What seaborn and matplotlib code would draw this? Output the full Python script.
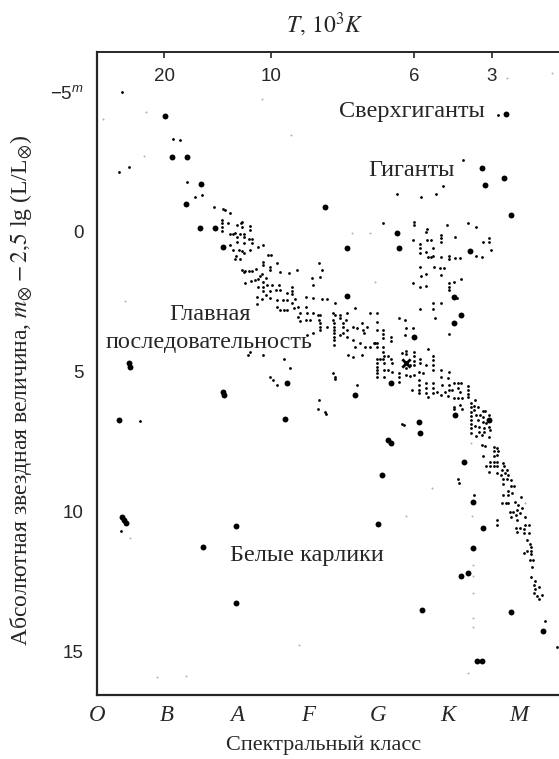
import matplotlib
matplotlib.use("Agg")
import matplotlib.pyplot as plt
import seaborn as sns

# Спектральные классы (нижняя ось)
classes = ["O", "B", "A", "F", "G", "K", "M"]
class_pos = [0, 1, 2, 3, 4, 5, 6]

# Температура, 10^3 K (верхняя ось)
temp_labels = ["20", "10", "6", "3"]
temp_pos = [0.96, 2.48, 4.52, 5.62]

mag_ticks = [-5, 0, 5, 10, 15]
mag_labels = ["$-5^{m}$", "0", "5", "10", "15"]

# мелкие точки (спектральный класс, абсолютная величина)
small_x = [
    0.35, 1.08, 1.18, 0.32, 0.45, 1.28, 1.39, 1.49,
    1.66, 1.79, 1.83, 1.89, 1.78, 1.78, 1.78, 1.78, 1.87, 1.99, 2.05, 2.07, 2.06, 2.18, 2.18,
    1.89, 1.94, 1.97, 2.03, 2.09, 1.99, 2.10, 2.16, 2.21, 2.21, 2.09, 1.99, 1.90, 2.29, 2.36,
    1.94, 2.02, 2.06, 2.18, 2.10, 1.98, 2.03, 1.96, 2.44, 2.48, 2.37, 2.37, 2.56, 3.16, 2.47,
    2.47, 2.06, 2.11, 2.16, 2.21, 2.27, 2.09, 2.32, 2.35, 2.30, 2.25, 2.19, 2.36, 2.40, 2.11,
    2.42, 2.49, 2.59, 2.61, 2.73, 2.85, 3.20, 3.06, 3.17, 2.30, 2.37, 2.36, 2.47, 2.55, 2.61,
    2.70, 2.78, 2.78, 2.78, 2.40, 2.28, 2.35, 2.47, 2.56, 2.65, 2.70, 2.82, 2.97, 3.08, 3.07,
    3.20, 3.27, 3.39, 2.28, 2.56, 2.61, 2.66, 2.70, 2.78, 2.80, 2.86, 2.97, 2.89, 2.99, 3.08,
    3.15, 3.18, 3.36, 3.39, 3.46, 3.56, 3.68, 3.89, 3.99, 2.86, 2.89, 2.97, 3.04, 3.16, 3.18,
    3.17, 3.17, 3.27, 3.36, 3.37, 3.37, 3.37, 3.37, 3.37, 3.37, 3.37, 3.46, 3.50, 3.50, 3.54,
    3.56, 3.51, 3.46, 3.56, 3.65, 3.70, 3.77, 3.79, 3.84, 3.80, 3.65, 3.68, 3.75, 3.82, 3.89,
    3.96, 3.58, 3.65, 3.77, 3.08, 2.99, 2.18, 2.15, 2.37,
    5.71, 5.21, 4.93, 4.83, 4.61, 4.27, 4.08, 4.51, 4.51, 4.70, 4.98, 5.29, 5.40, 5.10, 5.59,
    4.69, 4.50, 4.60, 4.60, 4.60, 4.70, 4.75, 4.90, 4.90, 4.90, 5.50, 5.59, 5.61, 4.79, 4.69,
    4.71, 4.76, 4.79, 4.90, 5.01, 5.02, 5.10, 5.17, 5.40, 5.48, 4.60, 4.80, 4.88, 4.94, 4.90,
    4.69, 4.61, 4.50, 4.60, 4.69, 5.01, 5.01, 5.01, 5.08, 5.18, 5.13, 4.79, 4.90, 4.60, 4.79,
    4.81, 4.30, 4.39, 3.99, 4.50, 4.40,
    3.99, 4.08, 4.08, 4.08, 4.19, 4.19, 4.39, 5.01, 3.94, 3.99, 3.99, 4.08, 4.08, 4.09, 4.15,
    4.19, 3.99, 4.03, 4.08, 3.99, 3.99, 3.99, 3.99, 3.99, 4.09, 4.09, 4.09, 4.20, 4.20, 4.14,
    4.40, 4.40, 4.51, 4.51, 4.51, 4.51, 4.34, 4.46, 4.40, 4.71, 4.60, 4.60, 4.69, 4.79, 4.79,
    4.79, 4.79, 4.59, 4.64, 4.30, 4.30, 4.30, 4.40, 4.46, 4.51, 4.59, 4.59, 4.59, 4.59, 4.69,
    4.69, 4.69, 4.71, 4.79, 4.79, 4.79, 4.90, 5.02, 4.90, 4.91, 4.90, 4.84, 5.00, 5.01, 5.01,
    5.00, 4.48, 4.95, 5.08, 5.14, 5.18, 5.06, 5.14, 5.17, 5.28, 5.28, 5.28, 5.28, 5.08, 5.14,
    5.20, 5.09, 5.09, 5.17, 5.20,
    5.32, 5.32, 5.32, 5.32, 5.32, 5.32, 5.32, 5.32,
    5.39, 5.37, 5.43, 5.37, 5.50, 5.53, 5.40, 5.45, 5.50, 5.58, 5.42, 5.50, 5.54, 5.39, 5.44,
    5.51, 5.58, 5.44, 5.51, 5.40, 5.48, 5.58, 5.60, 5.48, 5.53, 5.66, 5.70, 5.66, 5.71, 5.65,
    5.70, 5.50, 5.60, 5.65, 5.70, 5.54, 5.60, 5.65, 5.70, 5.58, 5.78, 5.79, 5.77, 5.84, 5.69,
    5.75, 5.81, 5.85, 5.78, 5.84, 5.89, 5.78, 5.89, 5.94, 5.85, 5.91, 5.85, 5.78, 6.04, 5.77,
    5.82, 5.86, 5.96, 6.00, 6.05, 5.98, 5.93, 5.88, 5.97, 6.03, 5.89,
    6.09, 5.98, 5.69, 5.69, 5.97, 6.03, 6.08, 5.98, 6.08, 6.15, 6.09, 6.15, 6.12, 6.17, 6.18,
    6.18, 6.18, 6.12, 6.08, 6.16, 6.21, 6.20, 6.18, 6.24, 6.23, 6.30, 6.24, 6.23, 6.34, 6.26,
    6.29,
    0.34, 0.61, 2.47, 2.50, 2.57, 2.66, 2.75, 3.16, 3.15, 3.25, 3.26, 3.36, 3.39, 3.39, 3.70,
    4.34, 4.37, 5.14, 5.15, 5.37, 6.38, 6.55,
]
small_y = [
    -4.99, -3.32, -3.29, -2.13, -2.33, -1.80, -1.24, -1.31,
    -0.90, -0.81, -0.79, -0.67, -0.43, -0.31, -0.19, -0.05, -0.31, -0.25, -0.31, -0.19, -0.37, -0.21, -0.07,
    0.07, 0.07, 0.05, 0.07, 0.07, 0.19, 0.19, 0.26, 0.26, 0.38, 0.38, 0.34, 0.46, 0.52, 0.46,
    0.64, 0.64, 0.67, 0.64, 0.74, 0.86, 0.98, 0.98, 0.82, 0.82, 1.06, 1.18, 1.12, 1.09, 1.24,
    1.36, 1.36, 1.38, 1.38, 1.38, 1.33, 1.42, 1.57, 1.50, 1.69, 1.71, 1.74, 1.77, 1.65, 1.83,
    1.89, 1.89, 1.89, 1.42, 1.45, 1.36, 1.36, 1.65, 1.62, 1.98, 1.98, 2.10, 2.10, 2.07, 2.07,
    2.19, 1.98, 2.10, 2.23, 2.25, 2.33, 2.40, 2.37, 2.43, 2.43, 2.43, 2.40, 2.31, 1.89, 2.37,
    2.38, 2.38, 2.55, 2.57, 2.69, 2.79, 2.79, 2.79, 2.55, 2.73, 2.69, 2.67, 2.90, 2.90, 2.90,
    2.96, 2.96, 2.90, 2.96, 2.96, 2.90, 2.73, 2.88, 2.90, 3.05, 3.17, 3.14, 3.14, 3.14, 3.26,
    3.38, 3.50, 3.38, 3.14, 3.26, 3.38, 3.50, 3.62, 3.74, 3.86, 4.04, 3.08, 3.26, 3.38, 3.14,
    3.50, 3.62, 3.68, 3.74, 3.38, 3.44, 3.26, 3.50, 3.38, 3.62, 3.86, 4.10, 3.98, 4.10, 4.10,
    3.98, 4.39, 4.45, 4.39, 3.62, 3.68, 4.29, 4.39, 4.39,
    -4.18, -2.57, -1.65, -1.34, -1.26, -1.34, -0.31, -0.35, -0.25, -0.11, -0.25, -0.33, -0.17, 0.17, 0.23,
    -0.01, 0.29, 0.44, 0.58, 0.74, 0.29, 0.29, 0.11, 0.23, 0.35, 0.35, 0.35, 0.64, 0.58, 0.70,
    0.88, 0.88, 0.86, 0.90, 0.86, 0.98, 0.94, 0.94, 0.86, 0.90, 1.26, 1.24, 1.30, 1.30, 1.54,
    1.50, 1.57, 1.83, 1.95, 1.93, 1.83, 1.95, 2.07, 1.77, 1.69, 2.37, 2.55, 2.55, 2.76, 2.76,
    3.08, 3.08, 3.14, 3.20, 3.44, 3.44,
    3.50, 3.50, 3.64, 3.80, 3.74, 3.88, 3.68, 3.64, 3.95, 3.95, 4.10, 4.10, 4.27, 4.43, 4.43,
    4.55, 4.55, 4.55, 4.55, 4.69, 4.81, 4.93, 5.05, 5.17, 4.69, 4.93, 5.17, 4.67, 4.99, 4.93,
    4.24, 4.36, 4.27, 4.43, 4.60, 4.75, 4.33, 4.75, 4.87, 4.19, 4.55, 4.69, 4.75, 4.43, 4.57,
    4.75, 4.93, 4.99, 5.02, 5.02, 5.19, 5.35, 5.11, 5.14, 5.11, 5.29, 5.46, 5.64, 5.76, 5.40,
    5.58, 5.74, 5.88, 5.40, 5.58, 5.76, 4.93, 4.99, 5.17, 5.46, 5.82, 5.70, 5.23, 5.46, 5.64,
    5.86, 5.64, 5.70, 5.40, 5.40, 5.40, 5.64, 5.58, 5.70, 5.50, 5.64, 5.79, 5.90, 5.94, 5.94,
    5.94, 6.24, 6.33, 6.18, 6.33,
    6.12, 6.26, 6.42, 6.57, 6.71, 6.86, 7.01, 7.17,
    6.00, 6.21, 6.26, 6.36, 6.38, 6.38, 6.54, 6.54, 6.60, 6.54, 6.71, 6.77, 6.83, 6.93, 6.98,
    7.01, 6.95, 7.13, 7.13, 7.29, 7.25, 7.31, 7.07, 7.61, 7.64, 7.67, 7.73, 7.81, 7.81, 8.00,
    7.96, 8.02, 8.20, 8.20, 8.20, 8.36, 8.36, 8.36, 8.36, 8.56, 8.24, 8.36, 8.50, 8.50, 8.62,
    8.68, 8.62, 8.68, 8.83, 8.83, 8.86, 9.00, 9.07, 9.07, 9.27, 9.31, 9.39, 9.39, 9.48, 9.67,
    9.67, 9.67, 9.63, 9.75, 9.87, 9.93, 9.99, 9.99, 10.11, 10.05, 10.17,
    10.17, 10.29, 10.29, 10.46, 10.58, 10.58, 10.62, 10.70, 10.74, 10.74, 10.46, 10.46, 11.02, 11.14, 11.26,
    11.38, 11.50, 11.38, 11.45, 11.71, 11.71, 11.95, 12.33, 12.45, 12.61, 12.69, 12.76, 12.90, 12.96, 13.02,
    13.11,
    10.68, 6.75, 5.17, 5.29, 5.46, 4.55, 4.87, 6.00, 6.33, 6.42, 6.50, 5.05, 5.17, 5.26, 5.46,
    6.86, 6.89, 8.83, 8.98, 9.39, 13.88, 14.81,
]

# крупные точки
big_x = [
    0.97, 1.07, 1.28, 1.48, 1.27, 3.25, 1.46, 1.68, 1.80, 5.82, 5.49, 5.80, 5.52, 5.90, 4.27,
    4.30, 5.31, 5.08, 5.18, 5.09, 3.56, 3.56, 4.51, 4.19, 5.10, 5.59, 5.22, 4.59, 4.15, 4.19,
    4.06, 5.36, 5.50, 5.36, 5.18, 5.29, 4.63, 5.90, 6.35, 5.41, 5.48, 0.38, 0.42, 0.35, 1.51,
    1.98, 1.98, 4.00, 0.45, 0.47, 1.79, 1.81, 0.32, 2.68, 2.71, 3.68, 4.60,
]
big_y = [
    -4.14, -2.69, -2.69, -1.71, -1.00, -0.90, -0.15, -0.15, 0.52, -4.21, -2.30, -1.94, -1.68, -0.61, 0.05,
    0.58, 0.67, 2.31, 2.96, 3.26, 2.27, 0.58, 3.76, 5.40, 6.54, 6.71, 8.20, 6.77, 7.43, 7.52,
    8.68, 9.63, 10.58, 11.30, 12.29, 12.17, 13.52, 13.59, 14.26, 15.31, 15.34, 10.29, 10.38, 10.19, 11.24,
    10.49, 13.26, 10.44, 4.69, 4.81, 5.70, 5.82, 6.71, 6.69, 5.38, 5.82, 7.19,
]

# еле заметные точки скана
faint_x = [5.84, 6.48, 3.89, 0.70, 2.76, 2.35, 0.09, 0.67, 3.96, 0.40, 3.63, 4.40, 4.77,
           5.33, 6.09, 5.36, 5.36, 5.29, 5.34, 5.35, 5.36, 5.36, 0.47, 0.85, 1.27, 2.87]
faint_y = [-5.49, -5.67, 0.02, -4.30, -3.46, -4.74, -4.04, -2.73, 1.77, 2.46, 0.05, 10.14, 9.15,
           7.52, 9.67, 13.80, 14.10, 15.76, 10.14, 11.89, 12.29, 12.90, 10.94, 15.90, 15.86, 14.75]

# Солнце
sun_x = [4.40]
sun_y = [4.67]

sns.set_style("white")
plt.rcParams["font.family"] = ["Liberation Serif", "DejaVu Serif"]
plt.rcParams["mathtext.fontset"] = "custom"
plt.rcParams["mathtext.rm"] = "Liberation Sans"
plt.rcParams["mathtext.it"] = "Liberation Sans:italic"

fig = plt.figure(figsize=(5.59, 7.59), dpi=100)
ax = fig.add_axes([97 / 559, 64 / 759, 462 / 559, 643 / 759])

sns.scatterplot(x=faint_x, y=faint_y, ax=ax, s=2, color="#b0b0b0", linewidth=0)
sns.scatterplot(x=small_x, y=small_y, ax=ax, s=4, color="black", linewidth=0)
sns.scatterplot(x=big_x, y=big_y, ax=ax, s=18, color="black", linewidth=0)
sns.scatterplot(x=sun_x, y=sun_y, ax=ax, s=36, color="black", marker="x", linewidth=2)

ax.set_xlim(0, 6.58)
ax.set_ylim(16.54, -6.43)

ax.spines["right"].set_visible(False)
for side in ["left", "bottom"]:
    ax.spines[side].set_linewidth(1.6)
ax.spines["top"].set_linewidth(1.2)

ax.set_xticks(class_pos, classes)
ax.tick_params(axis="x", direction="in", length=6, width=1.2, pad=7, labelsize=16.5)
for lab in ax.get_xticklabels():
    lab.set_fontstyle("italic")

ax.set_yticks(mag_ticks, mag_labels)
ax.tick_params(axis="y", direction="in", length=6, width=1.2, pad=9.5, labelsize=13.5)
for lab in ax.get_yticklabels():
    lab.set_family("Liberation Sans")

top = ax.secondary_xaxis("top")
top.set_xticks(temp_pos, temp_labels)
top.tick_params(direction="in", length=4, width=1.2, pad=-24, labelsize=13.5)
top.spines["top"].set_linewidth(1.2)
for lab in top.get_xticklabels():
    lab.set_family("Liberation Sans")

ax.set_xlabel("Спектральный класс", fontsize=16, va="center")
ax.xaxis.set_label_coords(0.49, -0.078)
ylab = ax.set_ylabel(r"Абсолютная звездная величина, $m_{\otimes} - 2{,}5$ lg (L/L$_{\otimes}$)",
                     fontsize=17, va="center")
ylab.set_math_fontfamily("stix")
ax.yaxis.set_label_coords(-0.162, 0.473)

fig.text(0.581, 0.967, r"$T,\, 10^{3}K$", fontsize=17, ha="center", va="center",
         math_fontfamily="stix")

ax.text(4.49, -4.29, "Сверхгиганты", fontsize=17.5, ha="center", va="center")
ax.text(4.48, -2.21, "Гиганты", fontsize=17.5, ha="center", va="center")
ax.text(1.61, 2.96, "Главная", fontsize=17.5, ha="center", va="center")
ax.text(1.60, 3.96, "последовательность", fontsize=17.5, ha="center", va="center")
ax.text(2.99, 11.57, "Белые карлики", fontsize=17.5, ha="center", va="center")

plt.savefig("out.png", dpi=100)
